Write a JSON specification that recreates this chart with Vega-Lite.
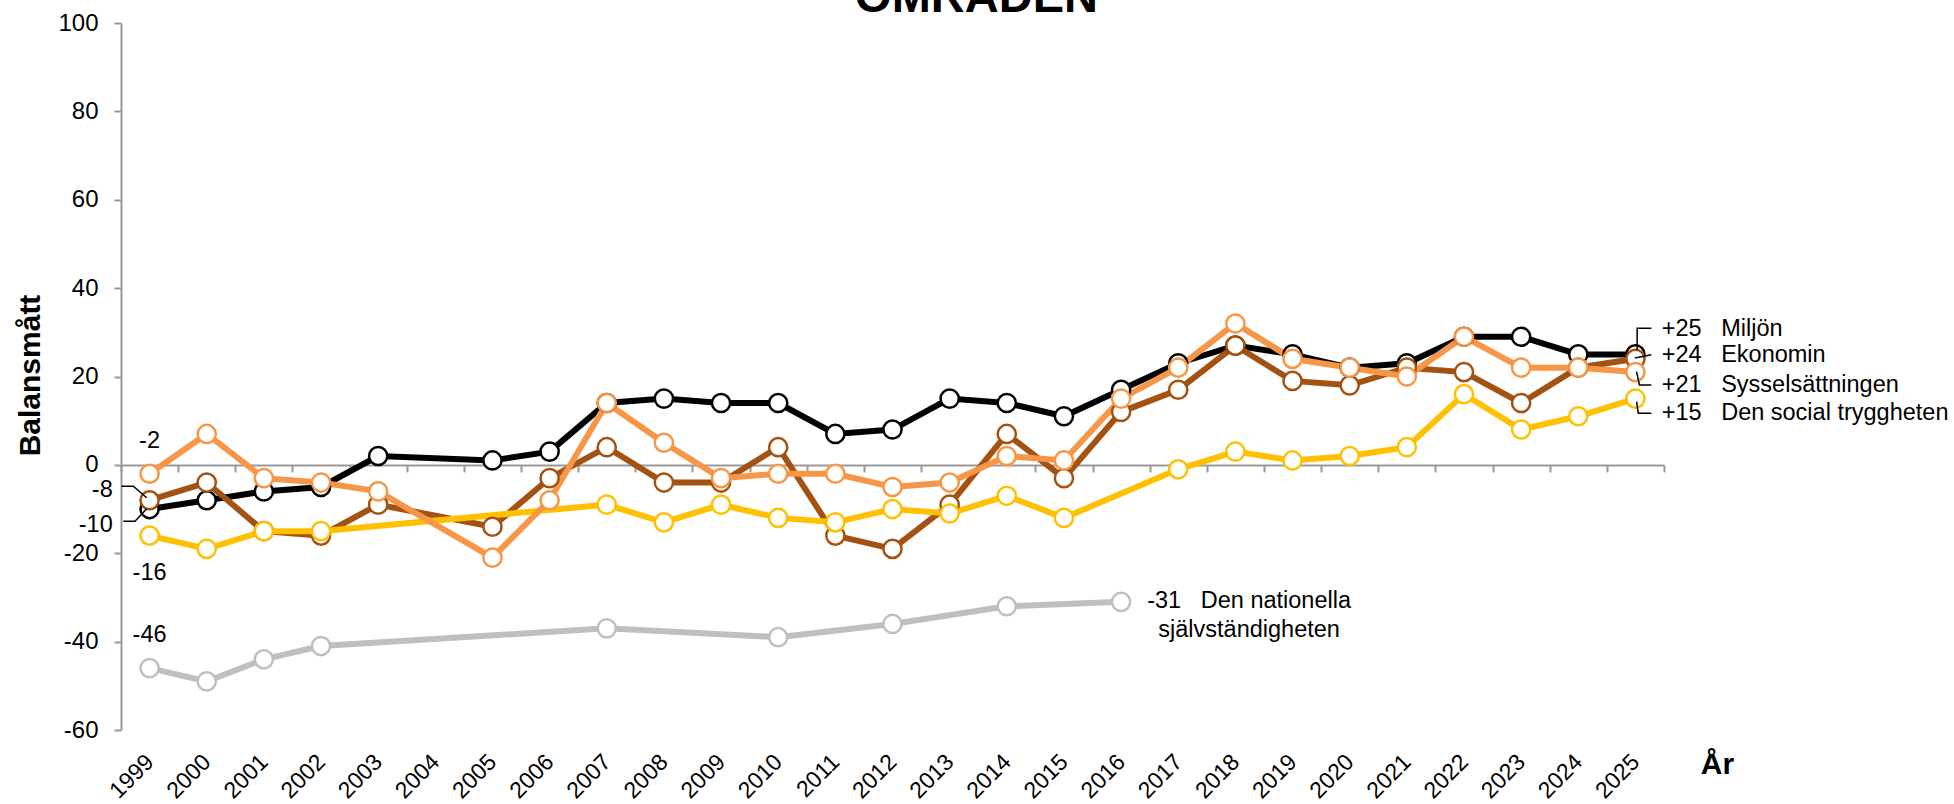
{
  "$schema": "https://vega.github.io/schema/vega-lite/v6.json",
  "width": 1543,
  "height": 707,
  "autosize": {"type": "none"},
  "padding": {"left": 121, "top": 23, "right": 290, "bottom": 74},
  "background": "white",
  "config": {"font": "Liberation Sans", "view": {"stroke": null}, "axis": {"grid": false}},
  "datasets": {
    "series": [
      {"serie": "Den nationella självständigheten", "year": 1999, "value": -46},
      {"serie": "Den nationella självständigheten", "year": 2000, "value": -49},
      {"serie": "Den nationella självständigheten", "year": 2001, "value": -44},
      {"serie": "Den nationella självständigheten", "year": 2002, "value": -41},
      {"serie": "Den nationella självständigheten", "year": 2007, "value": -37},
      {"serie": "Den nationella självständigheten", "year": 2010, "value": -39},
      {"serie": "Den nationella självständigheten", "year": 2012, "value": -36},
      {"serie": "Den nationella självständigheten", "year": 2014, "value": -32},
      {"serie": "Den nationella självständigheten", "year": 2016, "value": -31},
      {"serie": "Miljön", "year": 1999, "value": -10},
      {"serie": "Miljön", "year": 2000, "value": -8},
      {"serie": "Miljön", "year": 2001, "value": -6},
      {"serie": "Miljön", "year": 2002, "value": -5},
      {"serie": "Miljön", "year": 2003, "value": 2},
      {"serie": "Miljön", "year": 2005, "value": 1},
      {"serie": "Miljön", "year": 2006, "value": 3},
      {"serie": "Miljön", "year": 2007, "value": 14},
      {"serie": "Miljön", "year": 2008, "value": 15},
      {"serie": "Miljön", "year": 2009, "value": 14},
      {"serie": "Miljön", "year": 2010, "value": 14},
      {"serie": "Miljön", "year": 2011, "value": 7},
      {"serie": "Miljön", "year": 2012, "value": 8},
      {"serie": "Miljön", "year": 2013, "value": 15},
      {"serie": "Miljön", "year": 2014, "value": 14},
      {"serie": "Miljön", "year": 2015, "value": 11},
      {"serie": "Miljön", "year": 2016, "value": 17},
      {"serie": "Miljön", "year": 2017, "value": 23},
      {"serie": "Miljön", "year": 2018, "value": 27},
      {"serie": "Miljön", "year": 2019, "value": 25},
      {"serie": "Miljön", "year": 2020, "value": 22},
      {"serie": "Miljön", "year": 2021, "value": 23},
      {"serie": "Miljön", "year": 2022, "value": 29},
      {"serie": "Miljön", "year": 2023, "value": 29},
      {"serie": "Miljön", "year": 2024, "value": 25},
      {"serie": "Miljön", "year": 2025, "value": 25},
      {"serie": "Ekonomin", "year": 1999, "value": -8},
      {"serie": "Ekonomin", "year": 2000, "value": -4},
      {"serie": "Ekonomin", "year": 2001, "value": -15},
      {"serie": "Ekonomin", "year": 2002, "value": -16},
      {"serie": "Ekonomin", "year": 2003, "value": -9},
      {"serie": "Ekonomin", "year": 2005, "value": -14},
      {"serie": "Ekonomin", "year": 2006, "value": -3},
      {"serie": "Ekonomin", "year": 2007, "value": 4},
      {"serie": "Ekonomin", "year": 2008, "value": -4},
      {"serie": "Ekonomin", "year": 2009, "value": -4},
      {"serie": "Ekonomin", "year": 2010, "value": 4},
      {"serie": "Ekonomin", "year": 2011, "value": -16},
      {"serie": "Ekonomin", "year": 2012, "value": -19},
      {"serie": "Ekonomin", "year": 2013, "value": -9},
      {"serie": "Ekonomin", "year": 2014, "value": 7},
      {"serie": "Ekonomin", "year": 2015, "value": -3},
      {"serie": "Ekonomin", "year": 2016, "value": 12},
      {"serie": "Ekonomin", "year": 2017, "value": 17},
      {"serie": "Ekonomin", "year": 2018, "value": 27},
      {"serie": "Ekonomin", "year": 2019, "value": 19},
      {"serie": "Ekonomin", "year": 2020, "value": 18},
      {"serie": "Ekonomin", "year": 2021, "value": 22},
      {"serie": "Ekonomin", "year": 2022, "value": 21},
      {"serie": "Ekonomin", "year": 2023, "value": 14},
      {"serie": "Ekonomin", "year": 2024, "value": 22},
      {"serie": "Ekonomin", "year": 2025, "value": 24},
      {"serie": "Den social tryggheten", "year": 1999, "value": -16},
      {"serie": "Den social tryggheten", "year": 2000, "value": -19},
      {"serie": "Den social tryggheten", "year": 2001, "value": -15},
      {"serie": "Den social tryggheten", "year": 2002, "value": -15},
      {"serie": "Den social tryggheten", "year": 2007, "value": -9},
      {"serie": "Den social tryggheten", "year": 2008, "value": -13},
      {"serie": "Den social tryggheten", "year": 2009, "value": -9},
      {"serie": "Den social tryggheten", "year": 2010, "value": -12},
      {"serie": "Den social tryggheten", "year": 2011, "value": -13},
      {"serie": "Den social tryggheten", "year": 2012, "value": -10},
      {"serie": "Den social tryggheten", "year": 2013, "value": -11},
      {"serie": "Den social tryggheten", "year": 2014, "value": -7},
      {"serie": "Den social tryggheten", "year": 2015, "value": -12},
      {"serie": "Den social tryggheten", "year": 2017, "value": -1},
      {"serie": "Den social tryggheten", "year": 2018, "value": 3},
      {"serie": "Den social tryggheten", "year": 2019, "value": 1},
      {"serie": "Den social tryggheten", "year": 2020, "value": 2},
      {"serie": "Den social tryggheten", "year": 2021, "value": 4},
      {"serie": "Den social tryggheten", "year": 2022, "value": 16},
      {"serie": "Den social tryggheten", "year": 2023, "value": 8},
      {"serie": "Den social tryggheten", "year": 2024, "value": 11},
      {"serie": "Den social tryggheten", "year": 2025, "value": 15},
      {"serie": "Sysselsättningen", "year": 1999, "value": -2},
      {"serie": "Sysselsättningen", "year": 2000, "value": 7},
      {"serie": "Sysselsättningen", "year": 2001, "value": -3},
      {"serie": "Sysselsättningen", "year": 2002, "value": -4},
      {"serie": "Sysselsättningen", "year": 2003, "value": -6},
      {"serie": "Sysselsättningen", "year": 2005, "value": -21},
      {"serie": "Sysselsättningen", "year": 2006, "value": -8},
      {"serie": "Sysselsättningen", "year": 2007, "value": 14},
      {"serie": "Sysselsättningen", "year": 2008, "value": 5},
      {"serie": "Sysselsättningen", "year": 2009, "value": -3},
      {"serie": "Sysselsättningen", "year": 2010, "value": -2},
      {"serie": "Sysselsättningen", "year": 2011, "value": -2},
      {"serie": "Sysselsättningen", "year": 2012, "value": -5},
      {"serie": "Sysselsättningen", "year": 2013, "value": -4},
      {"serie": "Sysselsättningen", "year": 2014, "value": 2},
      {"serie": "Sysselsättningen", "year": 2015, "value": 1},
      {"serie": "Sysselsättningen", "year": 2016, "value": 15},
      {"serie": "Sysselsättningen", "year": 2017, "value": 22},
      {"serie": "Sysselsättningen", "year": 2018, "value": 32},
      {"serie": "Sysselsättningen", "year": 2019, "value": 24},
      {"serie": "Sysselsättningen", "year": 2020, "value": 22},
      {"serie": "Sysselsättningen", "year": 2021, "value": 20},
      {"serie": "Sysselsättningen", "year": 2022, "value": 29},
      {"serie": "Sysselsättningen", "year": 2023, "value": 22},
      {"serie": "Sysselsättningen", "year": 2024, "value": 22},
      {"serie": "Sysselsättningen", "year": 2025, "value": 21}
    ],
    "leaders": [
      {"leader": "a", "idx": 1, "year": 1998.51, "value": -4.83},
      {"leader": "a", "idx": 2, "year": 1998.715, "value": -4.83},
      {"leader": "a", "idx": 3, "year": 1998.95, "value": -7.45},
      {"leader": "b", "idx": 1, "year": 1998.54, "value": -12.74},
      {"leader": "b", "idx": 2, "year": 1998.745, "value": -12.74},
      {"leader": "b", "idx": 3, "year": 1998.95, "value": -9.94},
      {"leader": "c", "idx": 1, "year": 2025.03, "value": 26.0},
      {"leader": "c", "idx": 2, "year": 2025.03, "value": 30.9},
      {"leader": "c", "idx": 3, "year": 2025.28, "value": 30.9},
      {"leader": "d", "idx": 1, "year": 2024.99, "value": 24.2},
      {"leader": "d", "idx": 2, "year": 2025.28, "value": 24.9},
      {"leader": "e", "idx": 1, "year": 2025.02, "value": 21.1},
      {"leader": "e", "idx": 2, "year": 2025.07, "value": 18.1},
      {"leader": "e", "idx": 3, "year": 2025.28, "value": 18.1},
      {"leader": "f", "idx": 1, "year": 2025.02, "value": 14.3},
      {"leader": "f", "idx": 2, "year": 2025.05, "value": 11.7},
      {"leader": "f", "idx": 3, "year": 2025.28, "value": 11.7}
    ],
    "heading": [
      {"text": "OMRÅDEN", "year": 2013.47, "value": 102.6}
    ],
    "labelsCenter": [
      {"text": "-2", "year": 1999, "value": 5.3},
      {"text": "-16", "year": 1999, "value": -24.5},
      {"text": "-46", "year": 1999, "value": -38.5},
      {"text": ["-31\u00a0\u00a0\u00a0Den nationella", "självständigheten"], "year": 2018.24, "value": -30.8}
    ],
    "labelsRight": [
      {"text": "-8", "year": 1998.355, "value": -5.7},
      {"text": "-10", "year": 1998.355, "value": -13.6}
    ],
    "labelsLeft": [
      {"text": "+25\u00a0\u00a0\u00a0Miljön", "year": 2025.46, "value": 30.8},
      {"text": "+24\u00a0\u00a0\u00a0Ekonomin", "year": 2025.46, "value": 24.8},
      {"text": "+21\u00a0\u00a0\u00a0Sysselsättningen", "year": 2025.46, "value": 18.1},
      {"text": "+15\u00a0\u00a0\u00a0Den social tryggheten", "year": 2025.46, "value": 11.7}
    ]
  },
  "layer": [
    {
      "data": {"name": "series"},
      "mark": {"type": "line", "strokeWidth": 6},
      "encoding": {
        "x": {"field": "year", "type": "quantitative",
          "scale": {"domain": [1998.5, 2025.5], "nice": false, "zero": false},
          "axis": {"orient": "bottom", "offset": -265, "values": [1998.5,1999.5,2000.5,2001.5,2002.5,2003.5,2004.5,2005.5,2006.5,2007.5,2008.5,2009.5,2010.5,2011.5,2012.5,2013.5,2014.5,2015.5,2016.5,2017.5,2018.5,2019.5,2020.5,2021.5,2022.5,2023.5,2024.5,2025.5],
            "labels": false, "ticks": true, "tickSize": 7, "tickWidth": 2, "tickColor": "#999999", "domain": true, "domainColor": "#999999", "domainWidth": 2, "title": null, "grid": false}},
        "y": {"field": "value", "type": "quantitative",
          "scale": {"domain": [-60, 100], "nice": false, "zero": false},
          "axis": {"orient": "left", "values": [-60,-40,-20,0,20,40,60,80,100], "tickSize": 7, "tickWidth": 2, "tickColor": "#999999", "domain": true, "domainColor": "#999999", "domainWidth": 2,
            "labels": true, "labelFontSize": 24, "labelPadding": 16, "labelColor": "black", "labelExpr": "'' + datum.value", "labelFlush": false, "labelBound": false, "labelOverlap": false,
            "title": "Balansmått", "titleFontSize": 30, "titleFontWeight": "bold", "titleColor": "black", "titleX": -81.5, "titleY": 352, "titleBaseline": "alphabetic", "titleAlign": "center", "titleAngle": 270, "grid": false}},
        "color": {"field": "serie", "type": "nominal",
          "scale": {"domain": ["Den nationella självständigheten", "Miljön", "Ekonomin", "Den social tryggheten", "Sysselsättningen"],
                    "range": ["#BFBFBF", "#000000", "#A35211", "#FFC000", "#F79646"]},
          "legend": null}
      }
    },
    {
      "data": {"name": "series"},
      "mark": {"type": "point", "filled": false, "fill": "white", "fillOpacity": 1, "opacity": 1, "size": 330, "strokeWidth": 2.5},
      "encoding": {
        "x": {"field": "year", "type": "quantitative",
          "axis": {"orient": "bottom", "values": [1999,2000,2001,2002,2003,2004,2005,2006,2007,2008,2009,2010,2011,2012,2013,2014,2015,2016,2017,2018,2019,2020,2021,2022,2023,2024,2025],
            "domain": false, "ticks": false, "labelAngle": -45, "labelAlign": "right", "labelBaseline": "middle", "labelPadding": 28, "labelFontSize": 23, "labelColor": "black",
            "labelExpr": "'' + datum.value", "labelOverlap": false, "labelFlush": false, "labelBound": false, "grid": false,
            "title": "År", "titleFontSize": 30, "titleFontWeight": "bold", "titleColor": "black", "titleX": 1596, "titleY": 43, "titleBaseline": "alphabetic", "titleAlign": "center"}},
        "y": {"field": "value", "type": "quantitative", "axis": null},
        "color": {"field": "serie", "type": "nominal", "legend": null}
      }
    },
    {
      "data": {"name": "leaders"},
      "mark": {"type": "line", "color": "black", "strokeWidth": 1.5},
      "encoding": {
        "x": {"field": "year", "type": "quantitative", "axis": null},
        "y": {"field": "value", "type": "quantitative", "axis": null},
        "detail": {"field": "leader", "type": "nominal"},
        "order": {"field": "idx", "type": "quantitative"}
      }
    },
    {
      "data": {"name": "heading"},
      "mark": {"type": "text", "align": "center", "baseline": "alphabetic", "fontSize": 47, "fontWeight": "bold", "color": "black"},
      "encoding": {
        "x": {"field": "year", "type": "quantitative", "axis": null},
        "y": {"field": "value", "type": "quantitative", "axis": null},
        "text": {"field": "text", "type": "nominal"}
      }
    },
    {
      "data": {"name": "labelsCenter"},
      "mark": {"type": "text", "align": "center", "baseline": "middle", "fontSize": 23.5, "color": "black", "lineHeight": 29},
      "encoding": {
        "x": {"field": "year", "type": "quantitative", "axis": null},
        "y": {"field": "value", "type": "quantitative", "axis": null},
        "text": {"field": "text", "type": "nominal"}
      }
    },
    {
      "data": {"name": "labelsRight"},
      "mark": {"type": "text", "align": "right", "baseline": "middle", "fontSize": 23.5, "color": "black"},
      "encoding": {
        "x": {"field": "year", "type": "quantitative", "axis": null},
        "y": {"field": "value", "type": "quantitative", "axis": null},
        "text": {"field": "text", "type": "nominal"}
      }
    },
    {
      "data": {"name": "labelsLeft"},
      "mark": {"type": "text", "align": "left", "baseline": "middle", "fontSize": 23.5, "color": "black"},
      "encoding": {
        "x": {"field": "year", "type": "quantitative", "axis": null},
        "y": {"field": "value", "type": "quantitative", "axis": null},
        "text": {"field": "text", "type": "nominal"}
      }
    }
  ],
  "resolve": {"axis": {"x": "independent", "y": "independent"}}
}
